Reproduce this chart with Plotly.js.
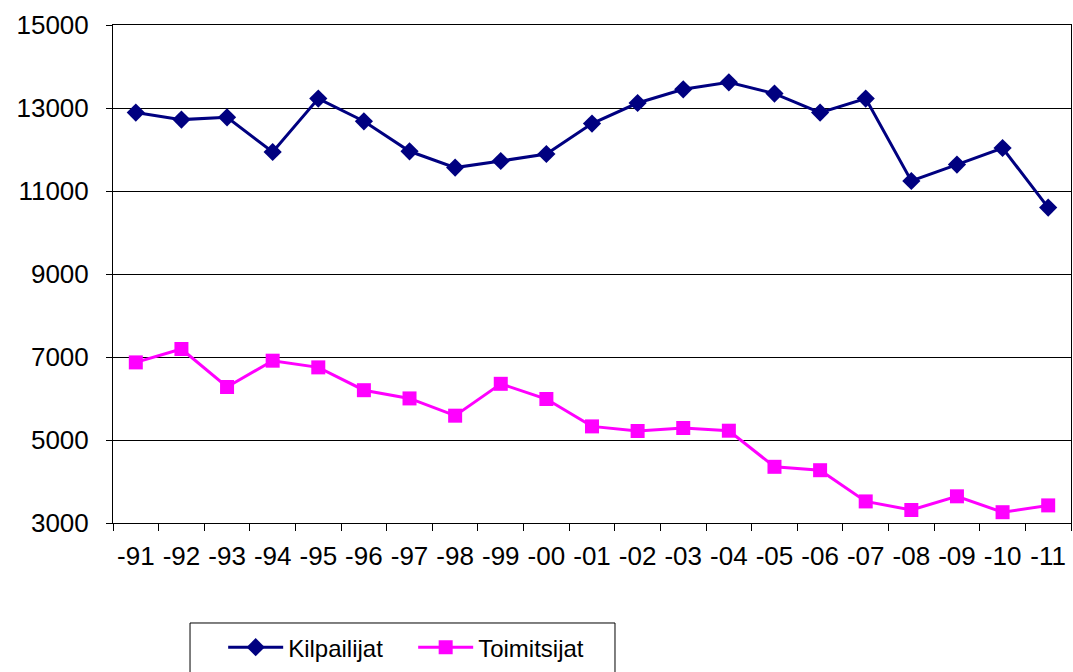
<!DOCTYPE html>
<html>
<head>
<meta charset="utf-8">
<script src="https://cdn.plot.ly/plotly-3.0.1.min.js"></script>
<style>html,body{margin:0;padding:0;background:#fff;}</style>
</head>
<body>
<div id="chart" style="width:1073px;height:672px;"></div>
<script>
const years = ["-91","-92","-93","-94","-95","-96","-97","-98","-99","-00","-01","-02","-03","-04","-05","-06","-07","-08","-09","-10","-11"];
const kilpailijat = [12890,12720,12776,11940,13226,12680,11957,11564,11723,11892,12624,13120,13450,13619,13347,12890,13226,11241,11636,12036,10600];
const toimitsijat = [6870,7193,6277,6911,6750,6200,6002,5586,6354,5988,5328,5217,5289,5224,4354,4272,3520,3313,3643,3260,3424];

const traces = [
  {x: years, y: kilpailijat, name: "Kilpailijat", type: "scatter", mode: "lines+markers",
   line: {color: "#000080", width: 3}, marker: {symbol: "diamond", size: 14, color: "#000080"}},
  {x: years, y: toimitsijat, name: "Toimitsijat", type: "scatter", mode: "lines+markers",
   line: {color: "#FF00FF", width: 3}, marker: {symbol: "square", size: 14, color: "#FF00FF"}}
];

const layout = {
  width: 1073, height: 672,
  margin: {l: 113, r: 2, t: 25, b: 149},
  paper_bgcolor: "#fff", plot_bgcolor: "#fff",
  font: {family: "Liberation Sans, Arial, sans-serif", size: 26, color: "#000"},
  showlegend: true,
  legend: {orientation: "h", x: 0.115, xanchor: "left", y: -0.205, yanchor: "top",
    borderwidth: 0, font: {size: 24}, itemwidth: 55,
    traceorder: "normal", entrywidth: 120, bgcolor: "rgba(0,0,0,0)"},
  shapes: [{type: "rect", xref: "paper", yref: "paper", x0: 0.0804, x1: 0.524, y0: -0.2008, y1: -0.36,
    line: {color: "#000", width: 1}, fillcolor: "rgba(0,0,0,0)", layer: "below"}],
  xaxis: {type: "category", range: [-0.5, 20.5], showgrid: false, showline: true, linecolor: "#000", linewidth: 1,
    mirror: true, ticks: "outside", ticklen: 7, tickcolor: "#000", tickson: "boundaries",
    zeroline: false, tickfont: {size: 26}, tickangle: 0, ticklabelstandoff: 10},
  yaxis: {range: [3000, 15000], dtick: 2000, tick0: 3000, showgrid: true, gridcolor: "#000", gridwidth: 1,
    showline: true, linecolor: "#000", linewidth: 1, mirror: true, ticks: "outside", ticklen: 6,
    tickcolor: "#000", zeroline: false, tickfont: {size: 26}, tickformat: "d", ticklabelstandoff: 12}
};

Plotly.newPlot("chart", traces, layout, {displayModeBar: false, staticPlot: true});
</script>
</body>
</html>
